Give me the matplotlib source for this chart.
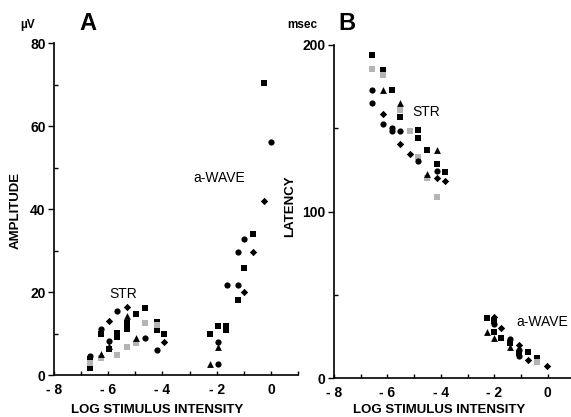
import matplotlib
matplotlib.use("Agg")
import matplotlib.pyplot as plt
from matplotlib.ticker import MultipleLocator

plt.rcParams['font.family'] = ['Liberation Sans', 'DejaVu Sans']

# panel A: amplitude (uV) vs log stimulus intensity, one list per marker type
amp_sq_x = [-6.67, -6.67, -6.28, -5.96, -5.69, -5.69, -5.32, -5.32, -4.97, -4.64, -4.21, -4.21, -3.94,
            -0.25, -0.67, -0.98, -1.22, -1.94, -1.65, -1.65, -2.24]
amp_sq_y = [3.8, 1.8, 10.0, 6.2, 10.2, 9.2, 12.5, 11.0, 14.6, 16.2, 12.8, 10.8, 10.0,
            70.3, 33.9, 25.7, 18.1, 11.9, 11.9, 10.8, 9.9]
amp_gray_x = [-6.67, -6.28, -5.69, -5.32, -4.97, -4.64, -4.21]
amp_gray_y = [2.8, 4.0, 4.8, 6.8, 7.8, 12.5, 12.0]
amp_circ_x = [-6.67, -6.28, -5.96, -5.69, -4.64, -4.21,
              0.0, -0.98, -1.22, -1.63, -1.22, -1.94, -1.94]
amp_circ_y = [4.6, 11.0, 8.3, 15.5, 8.8, 6.0,
              56.2, 32.9, 29.7, 21.7, 21.7, 8.0, 2.65]
amp_tri_x = [-6.28, -5.96, -5.32, -4.97, -1.94, -2.24]
amp_tri_y = [5.1, 7.0, 14.2, 8.9, 6.8, 2.65]
amp_dia_x = [-5.96, -5.32, -3.94, -0.25, -0.67, -0.98]
amp_dia_y = [13.0, 16.3, 8.0, 42.0, 29.7, 20.1]

# panel B: latency (msec)
lat_sq_x = [-6.59, -6.18, -5.84, -5.53, -4.84, -4.84, -4.53, -4.15, -3.84,
            -2.28, -2.01, -2.01, -1.76, -1.41, -1.07, -0.72, -0.39]
lat_sq_y = [193.8, 185.1, 172.8, 156.8, 148.8, 144.4, 136.8, 128.8, 124.0,
            35.8, 34.4, 27.8, 23.8, 20.8, 15.2, 15.8, 11.8]
lat_gray_x = [-6.59, -6.18, -5.53, -5.15, -4.84, -4.53, -4.15, -0.39]
lat_gray_y = [185.7, 181.8, 160.8, 148.4, 132.8, 120.4, 108.8, 9.8]
lat_circ_x = [-6.59, -6.59, -6.18, -5.84, -5.84, -5.53, -4.84, -4.15,
              -2.01, -1.41, -1.07, -1.07]
lat_circ_y = [172.8, 165.2, 152.8, 150.4, 148.4, 148.4, 130.4, 124.4,
              32.4, 23.2, 16.8, 13.2]
lat_tri_x = [-6.18, -5.53, -4.53, -4.15, -2.28, -2.01, -1.41]
lat_tri_y = [172.8, 165.2, 122.8, 136.8, 27.8, 23.8, 18.8]
lat_dia_x = [-6.18, -5.53, -5.15, -4.15, -3.84, -2.01, -1.76, -1.07, -0.72, -0.03]
lat_dia_y = [158.8, 140.4, 134.4, 120.4, 118.4, 36.8, 29.8, 19.8, 10.8, 7.2]

xtick_vals = [-8, -6, -4, -2, 0]
xtick_labels = ['- 8', '- 6', '- 4', '- 2', '0']

fig = plt.figure(figsize=(5.71, 4.17), dpi=100)
axA = fig.add_axes([0.0946, 0.1007, 0.4273, 0.796])
axB = fig.add_axes([0.585, 0.0935, 0.4208, 0.7986])


def draw(ax, sq, gray, circ, tri, dia):
    ax.scatter(*sq, marker='s', s=20, color='black', lw=0, clip_on=False)
    ax.scatter(*gray, marker='s', s=20, color='#b4b4b4', lw=0, clip_on=False)
    ax.scatter(*circ, marker='o', s=20, color='black', lw=0, clip_on=False)
    ax.scatter(*tri, marker='^', s=24, color='black', lw=0, clip_on=False)
    ax.scatter(*dia, marker='D', s=14, color='black', lw=0, clip_on=False)
    for s in ['top', 'right']:
        ax.spines[s].set_visible(False)
    for s in ['left', 'bottom']:
        ax.spines[s].set_linewidth(1.2)
    ax.set_xlim(-8, 1)
    ax.set_xticks(xtick_vals)
    ax.set_xticklabels(xtick_labels)
    ax.xaxis.set_minor_locator(MultipleLocator(1))
    ax.tick_params(axis='x', which='both', direction='in', length=3, width=1,
                   labelsize=10, pad=6)
    ax.tick_params(axis='y', which='major', direction='out', length=4, width=1,
                   labelsize=10, pad=2)
    ax.tick_params(axis='y', which='minor', direction='in', length=3, width=1)
    for lab in ax.get_xticklabels() + ax.get_yticklabels():
        lab.set_fontweight('bold')


draw(axA, (amp_sq_x, amp_sq_y), (amp_gray_x, amp_gray_y), (amp_circ_x, amp_circ_y),
     (amp_tri_x, amp_tri_y), (amp_dia_x, amp_dia_y))
axA.set_ylim(0, 80)
axA.set_yticks([0, 20, 40, 60, 80])
axA.yaxis.set_minor_locator(MultipleLocator(10))
for lab in axA.get_yticklabels():
    lab.set_fontweight('bold')
axA.text(-5.45, 19.5, 'STR', fontsize=10, ha='center', va='center')
axA.text(-1.9, 47.5, 'a-WAVE', fontsize=10, ha='center', va='center')

draw(axB, (lat_sq_x, lat_sq_y), (lat_gray_x, lat_gray_y), (lat_circ_x, lat_circ_y),
     (lat_tri_x, lat_tri_y), (lat_dia_x, lat_dia_y))
axB.set_ylim(0, 200)
axB.set_yticks([0, 100, 200])
axB.yaxis.set_minor_locator(MultipleLocator(50))
for lab in axB.get_yticklabels():
    lab.set_fontweight('bold')
axB.text(-4.55, 160, 'STR', fontsize=10, ha='center', va='center')
axB.text(-0.2, 33.5, 'a-WAVE', fontsize=10, ha='center', va='center')

# headers, units and axis titles
fig.text(28 / 571, 1 - 25 / 417, 'µV', fontsize=8.5, fontweight='bold', ha='center', va='center')
fig.text(88 / 571, 1 - 23 / 417, 'A', fontsize=17, fontweight='bold', ha='center', va='center')
fig.text(302 / 571, 1 - 25 / 417, 'msec', fontsize=8.5, fontweight='bold', ha='center', va='center')
fig.text(347 / 571, 1 - 23 / 417, 'B', fontsize=17, fontweight='bold', ha='center', va='center')
fig.text(16 / 571, 1 - 210 / 417, 'AMPLITUDE', fontsize=9.5, fontweight='bold',
         rotation=90, ha='center', va='center')
fig.text(290 / 571, 1 - 206 / 417, 'LATENCY', fontsize=9.5, fontweight='bold',
         rotation=90, ha='center', va='center')
fig.text(157 / 571, 1 - 410 / 417, 'LOG STIMULUS INTENSITY', fontsize=9.5, fontweight='bold',
         ha='center', va='center')
fig.text(439 / 571, 1 - 410 / 417, 'LOG STIMULUS INTENSITY', fontsize=9.5, fontweight='bold',
         ha='center', va='center')

fig.savefig('out.png', dpi=100)
